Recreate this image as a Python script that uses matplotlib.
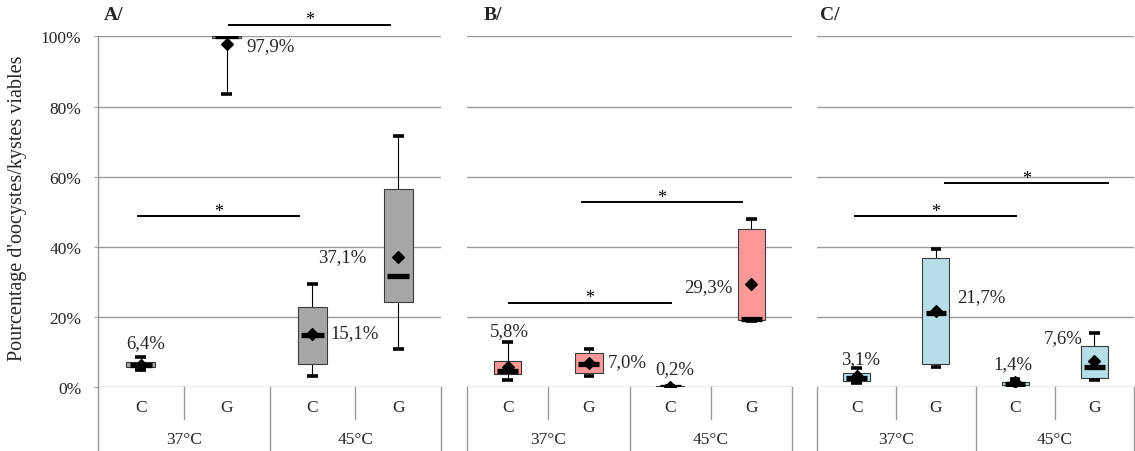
import numpy as np
import matplotlib.pyplot as plt

plt.rcParams["font.family"] = ["Liberation Serif", "DejaVu Serif"]

# ---- data (percent of viable oocysts/cysts) ----
CATEGORIES = ["C", "G", "C", "G"]
GROUPS = ["37°C", "45°C"]
PANELS = ["A/", "B/", "C/"]
COLORS = ["#A6A6A6", "#FF9999", "#B7DEE8"]

# one row per panel, columns: C 37°C, G 37°C, C 45°C, G 45°C
WHISLO = [[5.0, 83.7, 3.2, 11.0], [2.1, 3.3, 0.0, 19.0], [1.1, 5.9, 0.4, 2.1]]
Q1 = [[5.7, 99.6, 6.5, 24.2], [3.7, 4.0, 0.0, 19.2], [1.8, 6.5, 0.6, 2.7]]
MED = [[6.4, 100.0, 14.9, 31.7], [4.7, 6.6, 0.0, 19.6], [2.6, 21.2, 1.0, 5.7]]
Q3 = [[7.3, 100.0, 22.8, 56.5], [7.4, 9.7, 0.3, 45.1], [4.1, 36.7, 1.4, 11.7]]
WHISHI = [[8.5, 100.0, 29.4, 71.5], [13.0, 10.9, 0.5, 48.0], [5.6, 39.4, 2.3, 15.5]]
MEAN = [[6.4, 97.9, 15.1, 37.1], [5.8, 7.0, 0.2, 29.3], [3.1, 21.7, 1.4, 7.6]]

# significant comparisons: (category i, category j, bar height %)
SIG = [[(1, 3, 103.3), (0, 2, 48.7)],
       [(1, 3, 52.7), (0, 2, 24.1)],
       [(0, 2, 48.7), (1, 3, 58.2)]]

# ---- layout ----
W, H = 1135, 452
AX_X = [(98, 441), (467, 792), (817, 1134)]
Y0_PX, Y100_PX = 388.3, 37.3
TITLE_X = [104, 484, 820]
# per-bar trim of significance lines (start, end) in category units
SIG_TRIM = [[(0.03, -0.10), (-0.03, -0.16)],
            [(-0.09, -0.11), (0.02, 0.01)],
            [(-0.02, 0.01), (0.12, 0.17)]]
# data-label offsets (dx px, dy px, ha)
LABEL_OFF = [[(4.6, 22.5, "center"), (20, -2, "left"), (18, 2, "left"), (-32, 0, "right")],
             [(2, 36, "center"), (19, 1, "left"), (5, 18, "center"), (-18.6, -2, "right")],
             [(4, 18, "center"), (21, 15, "left"), (-2, 19, "center"), (-11.7, 23, "right")]]

GRID = "#9A9A9A"
TXT = "#262626"
FS_LABEL = 13.5
FS_TICK = 12.5

fig = plt.figure(figsize=(W / 100, H / 100), dpi=100)
ax_h = (Y0_PX - Y100_PX) / H
ax_b = (H - Y0_PX) / H
bottom_frac = -(H - Y0_PX) / (Y0_PX - Y100_PX)

for p in range(3):
    x0, x1 = AX_X[p]
    ax = fig.add_axes([x0 / W, ax_b, (x1 - x0) / W, ax_h])
    ax.set_xlim(-0.5, 3.5)
    ax.set_ylim(0, 100)
    ax.set_yticks(range(0, 101, 20))
    ax.grid(axis="y", color=GRID, linewidth=1.0, zorder=0)
    ax.set_axisbelow(True)
    ax.set_xticks([])
    for s in ax.spines.values():
        s.set_visible(False)
    if p == 0:
        ax.spines["left"].set_visible(True)
        ax.spines["left"].set_color(GRID)
        ax.spines["left"].set_linewidth(1.0)
        ax.set_yticklabels([f"{v}%" for v in range(0, 101, 20)], fontsize=FS_TICK, color=TXT)
        ax.tick_params(axis="y", length=3, color=GRID, pad=9)
    else:
        ax.tick_params(axis="y", length=0, labelleft=False)

    xs = np.arange(4)
    col = COLORS[p]
    q1, q3 = np.array(Q1[p]), np.array(Q3[p])
    ax.bar(xs, q3 - q1, bottom=q1, width=0.34, color=col,
           edgecolor="#3A3A3A", linewidth=0.8, zorder=3)
    ax.vlines(xs, WHISLO[p], q1, color="black", linewidth=0.8, zorder=2)
    ax.vlines(xs, q3, WHISHI[p], color="black", linewidth=0.8, zorder=2)
    ax.hlines(WHISLO[p], xs - 0.065, xs + 0.065, color="black", linewidth=2.6, zorder=4)
    ax.hlines(WHISHI[p], xs - 0.065, xs + 0.065, color="black", linewidth=2.6, zorder=4)
    ax.hlines(MED[p], xs - 0.13, xs + 0.13, color="black", linewidth=3.8, zorder=5)
    ax.scatter(xs, MEAN[p], marker="D", s=36, color="black", zorder=6)

    for i, m in enumerate(MEAN[p]):
        dx, dy, ha = LABEL_OFF[p][i]
        ax.annotate(f"{m:.1f}".replace(".", ",") + "%", (i, m),
                    xytext=(dx, dy), textcoords="offset pixels",
                    ha=ha, va="center", fontsize=FS_LABEL, color=TXT,
                    annotation_clip=False, zorder=7)

    # significance bars
    for (a, b, y), (ta, tb) in zip(SIG[p], SIG_TRIM[p]):
        xa, xb = a + ta, b + tb
        ax.plot([xa, xb], [y, y], color="black", linewidth=1.4, clip_on=False)
        ax.annotate("*", ((xa + xb) / 2, y), xytext=(0, 5), textcoords="offset pixels",
                    ha="center", va="center", fontsize=13, annotation_clip=False)

    # category axis below the plot
    trans = ax.get_xaxis_transform()
    for i, c in enumerate(CATEGORIES):
        ax.text(i, -0.056, c, transform=trans, ha="center", va="center",
                fontsize=FS_TICK, color=TXT)
    for g, name in enumerate(GROUPS):
        ax.text(0.5 + 2 * g, -0.147, name, transform=trans, ha="center",
                va="center", fontsize=FS_TICK, color=TXT)
    for xv in (0.5, 2.5):
        ax.plot([xv, xv], [0, -0.090], transform=trans, color=GRID,
                linewidth=1.0, clip_on=False)
    for xv in (-0.5, 1.5, 3.5):
        ax.plot([xv, xv], [0, bottom_frac], transform=trans, color=GRID,
                linewidth=1.0, clip_on=False)

    fig.text(TITLE_X[p] / W, 1 - 16 / H, PANELS[p], ha="left", va="center",
             fontsize=14, fontweight="bold", color=TXT)

fig.text(18 / W, 1 - 208 / H, "Pourcentage d'oocystes/kystes viables",
         rotation=90, ha="center", va="center", fontsize=14.5, color=TXT)

fig.savefig("out.png", dpi=100)
